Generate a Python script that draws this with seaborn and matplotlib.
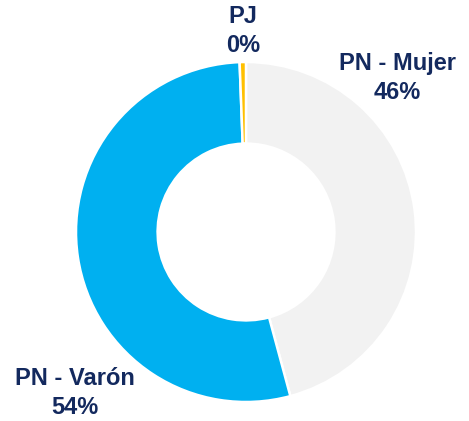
import matplotlib
matplotlib.use("Agg")
import matplotlib.pyplot as plt
import seaborn as sns

categories = ["PN - Mujer", "PN - Varón", "PJ"]
values = [45.8, 53.6, 0.6]
pct_labels = ["46%", "54%", "0%"]
colors = ["#F2F2F2", "#00B0F0", "#FFC000"]

sns.set_theme(style="white")
plt.rcParams['font.family'] = ['Liberation Sans', 'DejaVu Sans']

W, H = 469, 421
fig = plt.figure(figsize=(W / 100, H / 100), dpi=100)
ax = fig.add_axes([0, 0, 1, 1])
cx, cy, R = 246, 232, 170
ax.pie(values, colors=colors, startangle=90, counterclock=False, radius=1,
       wedgeprops=dict(width=0.48, edgecolor="white", linewidth=1.8))
ax.set_xlim(-cx / R, (W - cx) / R)
ax.set_ylim(-(H - cy) / R, cy / R)
ax.set_aspect("auto")
ax.axis("off")

txt_color = "#13295E"
label_pos = {"PN - Mujer": (397, 78), "PN - Varón": (75, 393), "PJ": (243, 31)}
for cat, pct in zip(categories, pct_labels):
    px, py = label_pos[cat]
    fig.text(px / W, 1 - py / H, f"{cat}\n{pct}", ha="center", va="center",
             fontsize=17, fontweight="bold", color=txt_color, linespacing=1.3)

fig.savefig("out.png", dpi=100)
